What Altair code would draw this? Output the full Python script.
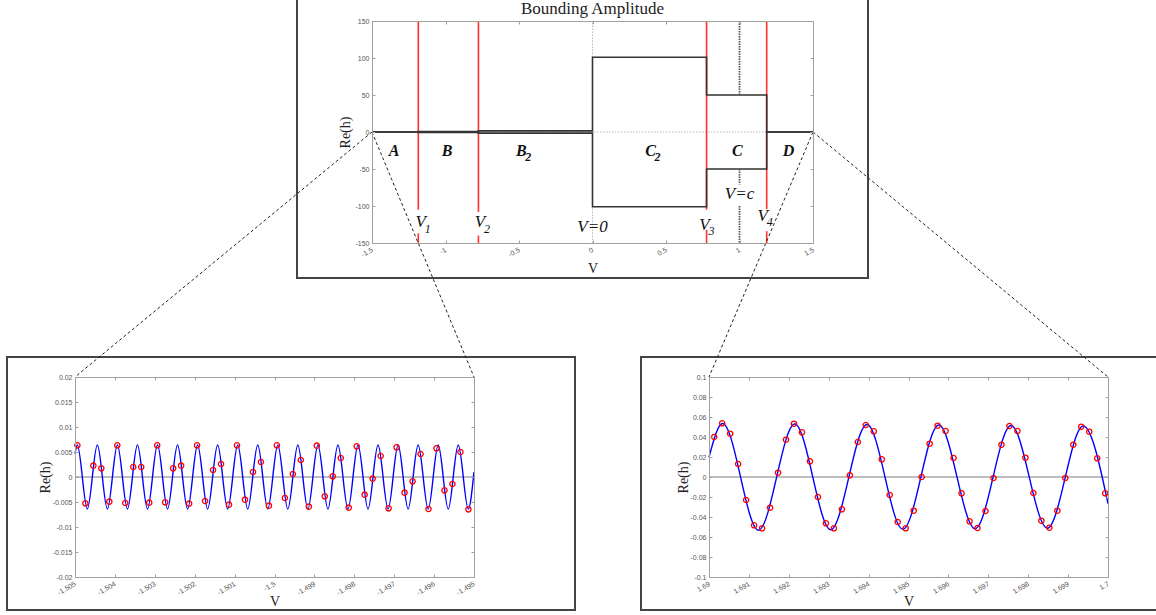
import altair as alt
import pandas as pd

W, H = 1156, 615
SERIF = "Liberation Serif"
SANS = "Liberation Sans"
AXIS_GRAY = "#a0a0a0"
TICK_TEXT = "#555555"
FRAME = "#444444"

# ---------------- overview panel: bounding amplitude ----------------
top_xticks = [-1.5, -1.0, -0.5, 0.0, 0.5, 1.0, 1.5]
top_yticks = [-150, -100, -50, 0, 50, 100, 150]

region_edges = [-1.5, -1.185, -0.776, 0.0, 0.776, 1.185, 1.5]
region_bound = [0.05, 0.5, 1.5, 101.0, 50.0, 0.0]          # A, B, B2, C2, C, D
region_main = ["A", "B", "B", "C", "C", "D"]
region_sub = ["", "", "2", "2", "", ""]
region_label_v = [-1.35, -0.99, -0.485, 0.395, 0.985, 1.333]
region_label_h = [-26, -26, -26, -26, -26, -26]

marker_v = [-1.185, -0.776, 0.776, 1.185]                   # V1..V4
marker_gap_top = [-105, -108, -105, -104]
marker_gap_bottom = [-137, -140, -132, -134]

vc_v = 1.0
vc_from = [150, -50, -100]
vc_to = [50, -71, -150]

point_main = ["V", "V", "V=0", "V", "V=c", "V"]
point_sub = ["1", "2", "", "3", "", "4"]
point_label_v = [-1.168, -0.766, 0.0, 0.762, 1.0, 1.158]
point_label_h = [-122, -122, -128, -125, -84, -113]

# ---------------- zoom near V = -1.5 ----------------
left_xticks = [-1.505, -1.504, -1.503, -1.502, -1.501, -1.5, -1.499, -1.498, -1.497, -1.496, -1.495]
left_yticks = [-0.02, -0.015, -0.01, -0.005, 0.0, 0.005, 0.01, 0.015, 0.02]

left_wave_v = [-1.505, -1.504942, -1.504691, -1.504440, -1.504188, -1.503937, -1.503686,
               -1.503435, -1.503183, -1.502932, -1.502681, -1.502430, -1.502178, -1.501927,
               -1.501676, -1.501425, -1.501173, -1.500922, -1.500671, -1.500420, -1.500168,
               -1.499917, -1.499666, -1.499415, -1.499163, -1.498912, -1.498661, -1.498410,
               -1.498158, -1.497907, -1.497656, -1.497405, -1.497153, -1.496902, -1.496651,
               -1.496400, -1.496148, -1.495897, -1.495646, -1.495395, -1.495143, -1.495]
left_wave_h = [0.0047, 0.0064, -0.0064, 0.0064, -0.0064, 0.0064, -0.0064, 0.0064, -0.0064,
               0.0064, -0.0064, 0.0064, -0.0064, 0.0064, -0.0064, 0.0064, -0.0064, 0.0064,
               -0.0064, 0.0064, -0.0064, 0.0064, -0.0064, 0.0064, -0.0064, 0.0064, -0.0064,
               0.0064, -0.0064, 0.0064, -0.0064, 0.0064, -0.0064, 0.0064, -0.0064, 0.0064,
               -0.0064, 0.0064, -0.0064, 0.0064, -0.0064, 0.0010]

left_sample_v = [-1.50494, -1.50474, -1.50454, -1.50434, -1.50414, -1.50394, -1.50374, -1.50354,
                 -1.50334, -1.50314, -1.50294, -1.50274, -1.50254, -1.50234, -1.50214, -1.50194,
                 -1.50174, -1.50154, -1.50134, -1.50114, -1.50094, -1.50074, -1.50054, -1.50034,
                 -1.50014, -1.49994, -1.49974, -1.49954, -1.49934, -1.49914, -1.49894, -1.49874,
                 -1.49854, -1.49834, -1.49814, -1.49794, -1.49774, -1.49754, -1.49734, -1.49714,
                 -1.49694, -1.49674, -1.49654, -1.49634, -1.49614, -1.49594, -1.49574, -1.49554,
                 -1.49534, -1.49514]
left_sample_h = [0.00633, -0.00527, 0.00227, 0.00173, -0.00493, 0.00633, -0.0052, 0.002,
                 0.002, -0.00513, 0.00633, -0.00507, 0.00173, 0.00227, -0.00533, 0.00633,
                 -0.0048, 0.0014, 0.0026, -0.00553, 0.00633, -0.00453, 0.001, 0.003,
                 -0.00573, 0.00633, -0.0042, 0.0006, 0.0034, -0.00593, 0.00627, -0.00387,
                 0.00013, 0.0038, -0.00613, 0.00613, -0.00353, -0.00033, 0.0042, -0.00627,
                 0.00593, -0.00313, -0.00087, 0.0046, -0.0064, 0.00573, -0.00267, -0.0014,
                 0.005, -0.00647]

# ---------------- zoom near V = 1.7 ----------------
right_xticks = [1.69, 1.691, 1.692, 1.693, 1.694, 1.695, 1.696, 1.697, 1.698, 1.699, 1.7]
right_yticks = [-0.1, -0.08, -0.06, -0.04, -0.02, 0.0, 0.02, 0.04, 0.06, 0.08, 0.1]

right_wave_v = [1.69, 1.69034, 1.69124, 1.69215, 1.69305, 1.69396, 1.69486, 1.69576,
                1.69667, 1.69757, 1.69848, 1.69938, 1.70]
right_wave_h = [0.0197, 0.0535, -0.0532, 0.053, -0.0527, 0.0525, -0.0522, 0.052,
                -0.0517, 0.0515, -0.0512, 0.051, -0.0267]

right_sample_v = [1.69013, 1.69033, 1.69053, 1.69073, 1.69093, 1.69113, 1.69133, 1.69153,
                  1.69173, 1.69193, 1.69213, 1.69233, 1.69253, 1.69273, 1.69293, 1.69313,
                  1.69333, 1.69353, 1.69373, 1.69393, 1.69413, 1.69433, 1.69453, 1.69473,
                  1.69493, 1.69513, 1.69533, 1.69553, 1.69573, 1.69593, 1.69613, 1.69633,
                  1.69653, 1.69673, 1.69693, 1.69713, 1.69733, 1.69753, 1.69773, 1.69793,
                  1.69813, 1.69833, 1.69853, 1.69873, 1.69893, 1.69913, 1.69933, 1.69953,
                  1.69973, 1.69993]
right_sample_h = [0.04, 0.0537, 0.0433, 0.013, -0.023, -0.0483, -0.0513, -0.0307, 0.0043,
                  0.0373, 0.0533, 0.0447, 0.0157, -0.02, -0.0463, -0.0513, -0.0323, 0.0017,
                  0.035, 0.052, 0.0457, 0.0177, -0.018, -0.045, -0.0513, -0.0337, 0.0,
                  0.0333, 0.0513, 0.046, 0.019, -0.0163, -0.0443, -0.051, -0.034, -0.001,
                  0.0323, 0.051, 0.046, 0.0193, -0.016, -0.0437, -0.0507, -0.0337, -0.001,
                  0.0323, 0.0503, 0.0453, 0.0187, -0.0163]

# ---------------- panel geometry (pixels on the page) ----------------
TOP = dict(x0=372, x1=813, y0=243, y1=21, xdom=[-1.5, 1.5], ydom=[-150, 150],
           xticks=top_xticks, yticks=top_yticks, xfmt=".1~f", yfmt="d",
           xtitle_dy=25, ytitle_dx=-27, box=(297, 868, -4, 278))
LEFT = dict(x0=75, x1=474, y0=577, y1=377, xdom=[-1.505, -1.495], ydom=[-0.02, 0.02],
            xticks=left_xticks, yticks=left_yticks, xfmt=".3~f", yfmt=".3~f",
            xtitle_dy=24, ytitle_dx=-30, box=(7, 575, 357, 610))
RIGHT = dict(x0=709, x1=1108, y0=577, y1=377, xdom=[1.69, 1.7], ydom=[-0.1, 0.1],
             xticks=right_xticks, yticks=right_yticks, xfmt=".3~f", yfmt=".2~f",
             xtitle_dy=24, ytitle_dx=-26, box=(641, 1175, 357, 610))

FIX_MINUS = "replace(datum.label, '\u2212', '-')"


def scales(p):
    sx = alt.Scale(domain=p["xdom"], range=[p["x0"], p["x1"]], nice=False, zero=False)
    sy = alt.Scale(domain=p["ydom"], range=[p["y0"], p["y1"]], nice=False, zero=False)
    return sx, sy


def enc(p, x="v", y="h", x2=None, y2=None):
    sx, sy = scales(p)
    e = dict(x=alt.X(f"{x}:Q", scale=sx, axis=None), y=alt.Y(f"{y}:Q", scale=sy, axis=None))
    if x2:
        e["x2"] = alt.X2(f"{x2}:Q")
    if y2:
        e["y2"] = alt.Y2(f"{y2}:Q")
    return e


def px(p, v, h):
    fx = (v - p["xdom"][0]) / (p["xdom"][1] - p["xdom"][0])
    fy = (h - p["ydom"][0]) / (p["ydom"][1] - p["ydom"][0])
    return p["x0"] + fx * (p["x1"] - p["x0"]), p["y0"] + fy * (p["y1"] - p["y0"])


def axis_layers(p):
    """Labelled bottom/left axes plus an inward-ticked box frame."""
    sx, sy = scales(p)
    anchor = pd.DataFrame({"v": [p["xdom"][0]], "h": [p["ydom"][0]]})
    base = alt.Chart(anchor).mark_point(opacity=0)
    common = dict(grid=False, domainColor=AXIS_GRAY, tickColor=AXIS_GRAY,
                  domainWidth=1, tickWidth=1, zindex=1, labelOverlap=False)
    labelled = base.encode(
        x=alt.X("v:Q", scale=sx, axis=alt.Axis(
            orient="bottom", offset=p["y0"] - H, values=p["xticks"], format=p["xfmt"],
            labelExpr=FIX_MINUS, labelAngle=330, labelAlign="right", labelBaseline="middle",
            labelPadding=6, labelFont=SANS, labelFontSize=7, labelColor=TICK_TEXT,
            labelFlush=False, ticks=False, tickSize=0, domain=True,
            title="V", titleFont=SERIF, titleFontSize=14, titleFontWeight="normal",
            titleColor="#222222", titleY=p["xtitle_dy"], titleBaseline="middle", **common)),
        y=alt.Y("h:Q", scale=sy, axis=alt.Axis(
            orient="left", offset=-p["x0"], values=p["yticks"], format=p["yfmt"],
            labelExpr=FIX_MINUS, labelPadding=3, labelFont=SANS, labelFontSize=7,
            labelColor=TICK_TEXT, labelFlush=False, ticks=False, tickSize=0, domain=True,
            title="Re(h)", titleFont=SERIF, titleFontSize=14, titleFontWeight="normal",
            titleColor="#222222", titleAngle=270, titleX=p["ytitle_dx"],
            titleBaseline="middle", titleAlign="center", **common)),
    )
    inner_ticks = base.encode(
        x=alt.X("v:Q", scale=sx, axis=alt.Axis(
            orient="top", offset=-p["y0"], values=p["xticks"], labels=False, domain=False,
            tickSize=3, title=None, **common)),
        y=alt.Y("h:Q", scale=sy, axis=alt.Axis(
            orient="right", offset=p["x0"] - W, values=p["yticks"], labels=False,
            domain=False, tickSize=3, title=None, **common)),
    )
    far_edges = base.encode(
        x=alt.X("v:Q", scale=sx, axis=alt.Axis(
            orient="bottom", offset=p["y1"] - H, values=p["xticks"], labels=False,
            domain=True, tickSize=3, title=None, **common)),
        y=alt.Y("h:Q", scale=sy, axis=alt.Axis(
            orient="left", offset=-p["x1"], values=p["yticks"], labels=False,
            domain=True, tickSize=3, title=None, **common)),
    )
    return [labelled, inner_ticks, far_edges]


def label_layers(p, mains, subs, xs, ys, size, sub_size, weight, sub_dx):
    """Italic labels with a lowered subscript drawn right after the main glyph."""
    df = pd.DataFrame({"v": xs, "h": ys, "main": mains, "sub": subs})
    main = alt.Chart(df).mark_text(font=SERIF, fontSize=size, fontStyle="italic",
                                   fontWeight=weight, color="#111111", baseline="middle",
                                   align="center").encode(text="main:N", **enc(p))
    sub = alt.Chart(df).mark_text(font=SERIF, fontSize=sub_size, fontStyle="italic",
                                  fontWeight=weight, color="#111111", baseline="middle",
                                  align="left", dx=sub_dx, dy=size * 0.38).encode(text="sub:N", **enc(p))
    return [main, sub]


one = pd.DataFrame({"k": [0]})
layers = []

# figure frames
for p in (TOP, LEFT, RIGHT):
    bx0, bx1, by0, by1 = p["box"]
    layers.append(alt.Chart(one).mark_rect(filled=False, stroke=FRAME, strokeWidth=2).encode(
        x=alt.value(bx0), x2=alt.value(bx1), y=alt.value(by0), y2=alt.value(by1)))

# ---- overview content ----
guides = pd.DataFrame({"v": [-1.5, 0.0], "v2": [1.5, 0.0], "h": [0.0, -150.0], "h2": [0.0, 150.0]})
layers.append(alt.Chart(guides).mark_rule(color="#b8b8b8", strokeWidth=1, strokeDash=[1.5, 1.5])
              .encode(**enc(TOP, x2="v2", y2="h2")))

red_rows = []
for v, gt, gb in zip(marker_v, marker_gap_top, marker_gap_bottom):
    red_rows.append({"v": v, "v2": v, "h": 150.0, "h2": gt})
    red_rows.append({"v": v, "v2": v, "h": gb, "h2": -150.0})
layers.append(alt.Chart(pd.DataFrame(red_rows)).mark_rule(color="#ff3030", strokeWidth=1.6)
              .encode(**enc(TOP, x2="v2", y2="h2")))

env_rows = []
for side, sign in (("upper", 1), ("lower", -1)):
    n = 0
    for i, b in enumerate(region_bound):
        for v in (region_edges[i], region_edges[i + 1]):
            env_rows.append({"v": v, "h": sign * b, "side": side, "n": n})
            n += 1
layers.append(alt.Chart(pd.DataFrame(env_rows)).mark_line(color="#333333", strokeWidth=1.6)
              .encode(**enc(TOP), detail="side:N", order="n:Q"))

vc_df = pd.DataFrame({"v": [vc_v] * len(vc_from), "v2": [vc_v] * len(vc_from), "h": vc_from, "h2": vc_to})
layers.append(alt.Chart(vc_df).mark_rule(color="#555555", strokeWidth=1.8, strokeDash=[1.5, 1])
              .encode(**enc(TOP, x2="v2", y2="h2")))

layers += label_layers(TOP, region_main, region_sub, region_label_v, region_label_h,
                       16, 12, "bold", 4)
layers += label_layers(TOP, point_main, point_sub, point_label_v, point_label_h,
                       17, 12, "normal", 4)

layers.append(alt.Chart(pd.DataFrame({"t": ["Bounding Amplitude"]})).mark_text(
    font=SERIF, fontSize=17, color="#222222", baseline="alphabetic").encode(
    text="t:N", x=alt.value((TOP["x0"] + TOP["x1"]) / 2), y=alt.value(14)))

layers += axis_layers(TOP)

# ---- zoom panels ----
for p, wv, wh, sv, sh in ((LEFT, left_wave_v, left_wave_h, left_sample_v, left_sample_h),
                          (RIGHT, right_wave_v, right_wave_h, right_sample_v, right_sample_h)):
    zero = pd.DataFrame({"v": [p["xdom"][0]], "v2": [p["xdom"][1]], "h": [0.0], "h2": [0.0]})
    layers.append(alt.Chart(zero).mark_rule(color="#a8a8a8", strokeWidth=1.5)
                  .encode(**enc(p, x2="v2", y2="h2")))
    wave = pd.DataFrame({"v": wv, "h": wh})
    layers.append(alt.Chart(wave).mark_line(color="#0000ff", strokeWidth=1.4, interpolate="monotone")
                  .encode(**enc(p)))
    samples = pd.DataFrame({"v": sv, "h": sh})
    layers.append(alt.Chart(samples).mark_point(shape="circle", filled=False, color="#ff0000",
                                                size=28, strokeWidth=1.3, opacity=1)
                  .encode(**enc(p)))
    layers += axis_layers(p)

# ---- dashed connectors from the overview to the zoom panels ----
lx, ly = px(TOP, TOP["xdom"][0], 0.0)
rx, ry = px(TOP, TOP["xdom"][1], 0.0)
for sx0, sy0, p in ((lx, ly, LEFT), (rx, ry, RIGHT)):
    for ex in (p["x0"], p["x1"]):
        layers.append(alt.Chart(one).mark_rule(color="#222222", strokeWidth=1, strokeDash=[3, 2.5])
                      .encode(x=alt.value(sx0), y=alt.value(sy0), x2=alt.value(ex), y2=alt.value(p["y1"])))

chart = (alt.layer(*layers)
         .resolve_scale(x="independent", y="independent")
         .properties(width=W, height=H, padding=0, autosize=alt.AutoSizeParams(type="none"))
         .configure_view(strokeWidth=0))

chart.save("out.html", embed_options={"renderer": "svg", "actions": False})
